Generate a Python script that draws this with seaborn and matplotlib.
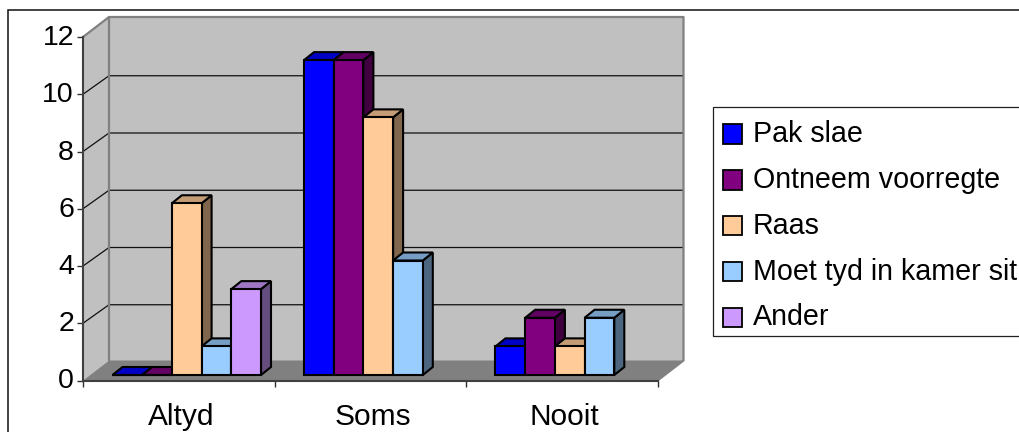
import matplotlib
matplotlib.use("Agg")
import matplotlib.pyplot as plt
from matplotlib.patches import Polygon, Rectangle
from matplotlib.transforms import Affine2D
import numpy as np
import pandas as pd
import seaborn as sns

categories = ["Altyd", "Soms", "Nooit"]
series_names = ["Pak slae", "Ontneem voorregte", "Raas", "Moet tyd in kamer sit", "Ander"]
pak_slae = [0, 11, 1]
ontneem_voorregte = [0, 11, 2]
raas = [6, 9, 1]
moet_tyd = [1, 4, 2]
ander = [3, np.nan, np.nan]
colors = ["#0000FF", "#800080", "#FFCC99", "#99CCFF", "#CC99FF"]
y_ticks = [0, 2, 4, 6, 8, 10, 12]

sns.set_theme(style="white")
plt.rcParams["font.family"] = ["Liberation Sans", "DejaVu Sans"]

W, H = 1019, 432
fig = plt.figure(figsize=(W / 100, H / 100), dpi=100)
L, R, T, B = 83.0, 657.5, 37.0, 380.5
ax = fig.add_axes([L / W, 1 - B / H, (R - L) / W, (B - T) / H])
ax.patch.set_alpha(0)

rows = []
for name, vals in zip(series_names, [pak_slae, ontneem_voorregte, raas, moet_tyd, ander]):
    for c, v in zip(categories, vals):
        rows.append({"cat": c, "serie": name, "val": v})
df = pd.DataFrame(rows)

sns.barplot(data=df, x="cat", y="val", hue="serie", order=categories, hue_order=series_names,
            palette=colors, saturation=1, width=0.7755, gap=0, errorbar=None,
            edgecolor="black", linewidth=1.5, ax=ax)
handles, labels = ax.get_legend_handles_labels()
if ax.get_legend():
    ax.get_legend().remove()
bars = sorted([p for p in ax.patches if p.get_width() > 0 and np.isfinite(p.get_height())],
              key=lambda p: p.get_x())

ax.set_xlim(-0.5, 2.5)
ax.set_ylim(0, 12)
ax.set_xlabel("")
ax.set_ylabel("")
ax.set_yticks(y_ticks)
ax.set_xticks([-0.5, 0.5, 1.5, 2.5], minor=True)
ax.set_xticks([0, 1, 2], labels=categories)
ax.tick_params(axis="x", which="major", length=0, labelsize=21.5, pad=16, colors="black")
ax.tick_params(axis="x", which="minor", length=4.5, width=1, color="#303030", bottom=True)
ax.tick_params(axis="y", length=4.5, width=1, color="#303030", left=True, labelsize=20.5, pad=2, labelcolor="black")
for lab in ax.get_yticklabels():
    lab.set_transform(lab.get_transform() + Affine2D().translate(0, 2))
for lab in ax.get_xticklabels():
    lab.set_transform(lab.get_transform() + Affine2D().translate(2.5, 0))
for s in ["top", "right"]:
    ax.spines[s].set_visible(False)
for s in ["left", "bottom"]:
    ax.spines[s].set_color("#404040")
    ax.spines[s].set_linewidth(1.5)
    ax.spines[s].set_zorder(3)

px_x = 3 / (R - L)
px_y = 12 / (B - T)
DX, DY = 26 * px_x, 20 * px_y      # chart depth
GY = 18.5 * px_y                   # depth rise of the inner gridlines
x0, x1 = -0.5, 2.5
wall = "#C0C0C0"
ax.add_patch(Polygon([(x0, 0), (x0 + DX, DY), (x0 + DX, 12 + DY), (x0, 12)], fc=wall, ec="none", zorder=0, clip_on=False))
ax.add_patch(Rectangle((x0 + DX, DY), x1 - x0, 12, fc=wall, ec="none", zorder=0, clip_on=False))
ax.add_patch(Polygon([(x0, 0), (x1, 0), (x1 + DX, DY), (x0 + DX, DY)], fc="#808080", ec="none", zorder=0.5, clip_on=False))
for t in y_ticks[1:-1]:
    ax.plot([x0, x0 + DX, x1 + DX], [t, t + GY, t + GY], color="#101010", lw=0.9, zorder=0.7, clip_on=False)
ax.plot([x0, x0 + DX, x1 + DX, x1 + DX, x1], [12, 12 + DY, 12 + DY, DY, 0], color="#808080", lw=1.6, zorder=0.8, clip_on=False)
ax.plot([x0 + DX, x0 + DX], [DY, 12 + DY], color="#808080", lw=1.6, zorder=0.8, clip_on=False)

# extruded bars: every face derives from the seaborn bar's own geometry
to_plane = ax.transData + Affine2D().translate(8, 5.5)
dx, dy = 10 * px_x, 8 * px_y
z = 1.0
for b in bars:
    xa, w, h = b.get_x(), b.get_width(), b.get_height()
    rgb = np.array(matplotlib.colors.to_rgb(b.get_facecolor()))
    kw = dict(ec="black", lw=1.5, joinstyle="miter", transform=to_plane, clip_on=False)
    ax.add_patch(Polygon([(xa + w, 0), (xa + w + dx, dy), (xa + w + dx, h + dy), (xa + w, h)], fc=rgb * 0.5, zorder=z, **kw))
    ax.add_patch(Polygon([(xa, h), (xa + dx, h + dy), (xa + w + dx, h + dy), (xa + w, h)], fc=rgb * 0.77, zorder=z + 0.1, **kw))
    b.set_transform(to_plane)
    b.set_clip_on(False)
    b.set_zorder(z + 0.2)
    z += 0.3

# outer chart frame (runs past the picture on the right and bottom)
fig.add_artist(Rectangle((7.5 / W, -0.1), 1.1, 1 - 10.5 / H + 0.1, transform=fig.transFigure,
                         fc="none", ec="#101010", lw=1.1, zorder=-1))

leg = fig.legend(handles, labels, loc="upper left", bbox_to_anchor=(713 / W, 1 - 107 / H),
                 bbox_transform=fig.transFigure, borderaxespad=0, fontsize=20.6, frameon=True,
                 fancybox=False, edgecolor="#202020", framealpha=1, facecolor="white",
                 handlelength=0.66, handleheight=0.66, handletextpad=0.38,
                 labelspacing=0.625, borderpad=0.31, labelcolor="black")
leg.get_frame().set_linewidth(0.9)
for t in leg.get_texts():
    t.set_y(-4)
    t.set_x(1)
for p in leg.get_patches():
    p.set_linewidth(1.3)
    p.set_edgecolor("black")
    p.set_y(p.get_y() - 4.5)
    p.set_x(p.get_x() + 1)

fig.savefig("out.png", dpi=100)
